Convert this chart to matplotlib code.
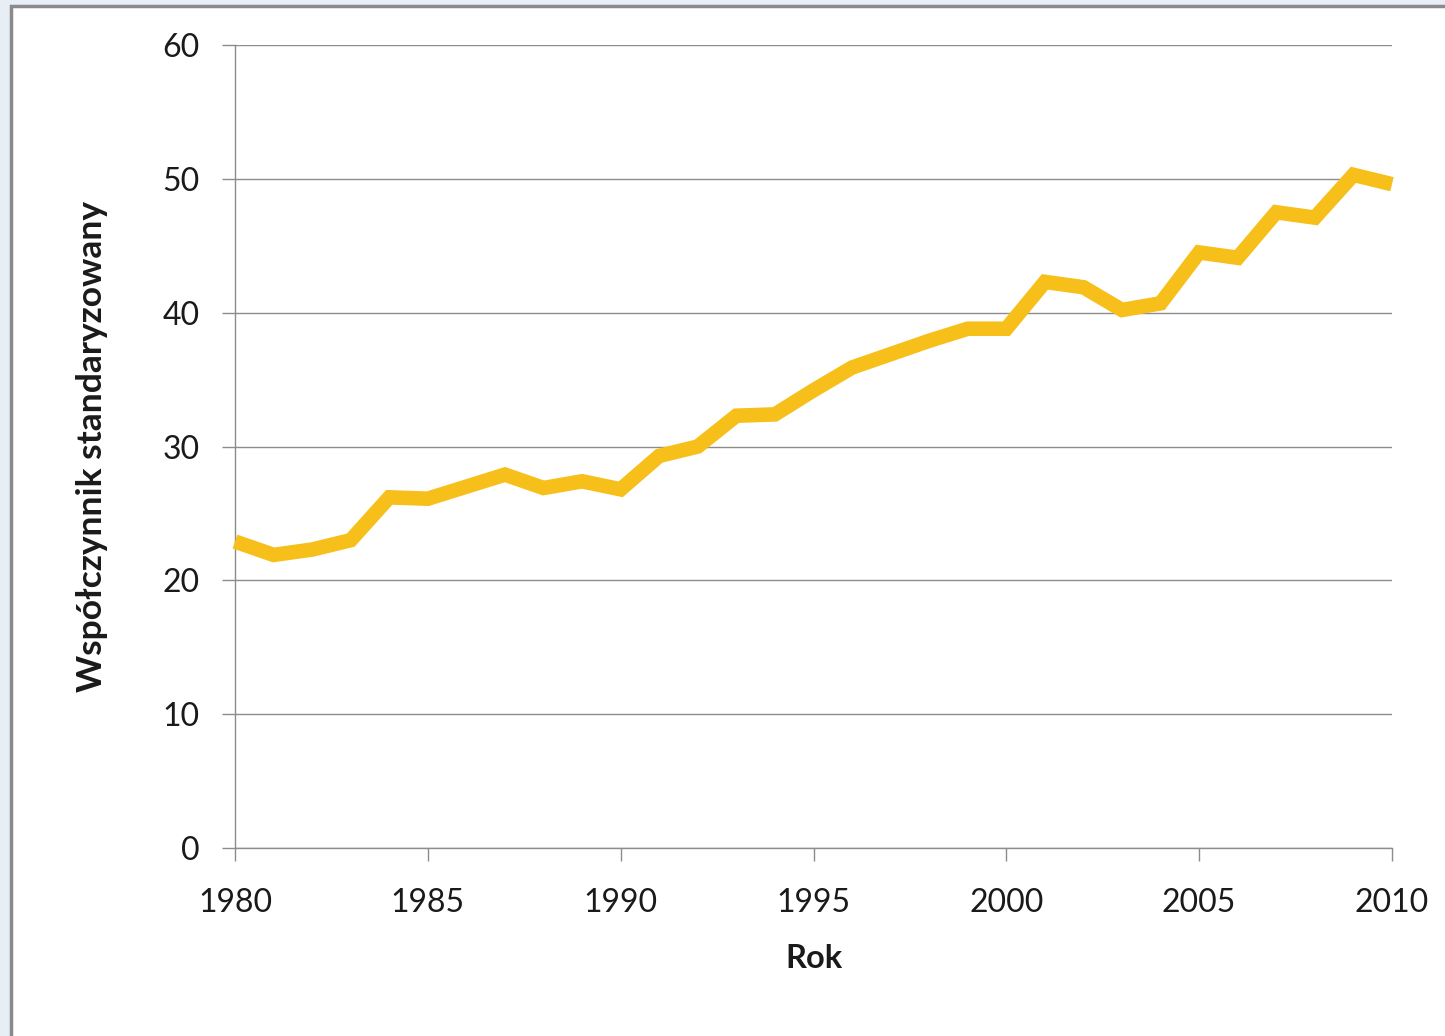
import matplotlib
matplotlib.use("Agg")
import matplotlib.pyplot as plt
from matplotlib.patches import Rectangle

# Data series
years = list(range(1980, 2011))
values = [22.9, 21.9, 22.3, 23.0, 26.2, 26.1, 27.0, 27.9, 26.9, 27.4,
          26.8, 29.3, 30.0, 32.3, 32.4, 34.2, 35.9, 36.9, 37.9, 38.8,
          38.8, 42.3, 41.9, 40.2, 40.7, 44.5, 44.1, 47.5, 47.1, 50.3,
          49.6]
x_ticks = [1980, 1985, 1990, 1995, 2000, 2005, 2010]
y_ticks = [0, 10, 20, 30, 40, 50, 60]

plt.rcParams['font.family'] = ['Lato', 'DejaVu Sans']

W, H = 1445, 1036
fig = plt.figure(figsize=(W / 100, H / 100), dpi=100)
fig.patch.set_facecolor('#e8eef6')

# White panel with grey border
panel = Rectangle((10.5 / W, -0.01), 1.1, 1 - 5.5 / H + 0.01,
                  transform=fig.transFigure, facecolor='white',
                  edgecolor='#8a8a8a', linewidth=2.5, zorder=-10)
fig.patches.append(panel)

ax = fig.add_axes([235 / W, 1 - 848 / H, (1392 - 235) / W, (848 - 45) / H])
ax.set_zorder(5)
ax.set_facecolor('none')

ax.plot(years, values, color='#f7bf1a', linewidth=10.5,
        solid_joinstyle='miter', solid_capstyle='butt', zorder=3,
        clip_on=False)

ax.set_xlim(1980, 2010)
ax.set_ylim(0, 60)
ax.set_xticks(x_ticks)
ax.set_yticks(y_ticks)
ax.grid(axis='y', color='#8c8c8c', linewidth=1.0)
ax.set_axisbelow(True)

for s in ['top', 'right']:
    ax.spines[s].set_visible(False)
for s in ['left', 'bottom']:
    ax.spines[s].set_color('#8c8c8c')
    ax.spines[s].set_linewidth(1.0)

ax.tick_params(axis='both', colors='#8c8c8c', labelcolor='#1a1a1a',
               labelsize=23, length=9.5, width=1.0)
ax.tick_params(axis='y', pad=16)
ax.tick_params(axis='x', pad=19)

ax.set_xlabel('Rok', fontsize=23.5, fontweight='bold', color='#1a1a1a',
              labelpad=19)
ax.set_ylabel('Współczynnik standaryzowany', fontsize=25.5,
              fontweight='bold', color='#1a1a1a', labelpad=39)

fig.savefig('out.png', dpi=100, facecolor=fig.get_facecolor())
